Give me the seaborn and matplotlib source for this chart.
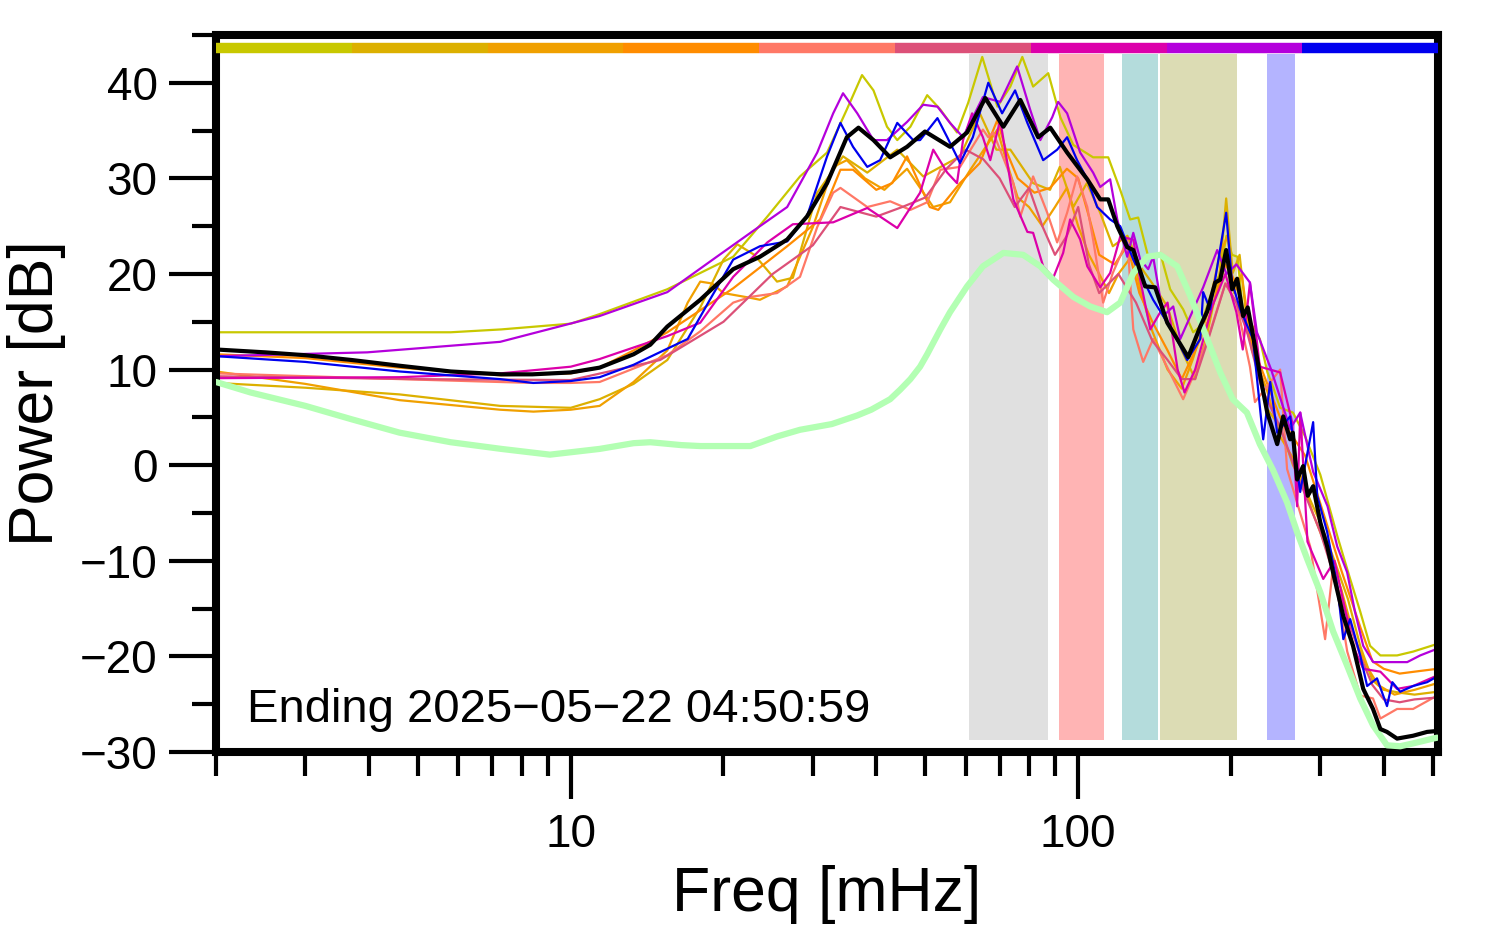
import numpy as np
import pandas as pd
import matplotlib
matplotlib.use("Agg")
import matplotlib.pyplot as plt
import matplotlib.ticker as mticker
import seaborn as sns

# ---------------- data ----------------
seg_colors = ["#c8c800", "#dcb000", "#f0a000", "#ff8c00", "#ff7866",
              "#dc5078", "#dc00aa", "#b400dc", "#0000ee"]

band_lo = [61.0, 91.7, 122.0, 145.0, 236.0]
band_hi = [87.0, 112.5, 143.8, 205.7, 268.0]
band_colors = ["#e0e0e0", "#ffb4b4", "#b4dcdc", "#dcdcb4", "#b4b4ff"]

yellow_f = [2, 3, 5.8, 7.3, 10, 11.4, 15.5, 20.9, 24.4, 28.3, 32, 35, 37.5, 39.5, 42, 44, 46.7, 50.4, 53.5,
            57.7, 60.7, 64.7, 69.3, 73.5, 77.6, 81.5, 87.3, 92.2, 97.8, 107, 114.6, 121, 126.6, 131.3, 137.4,
            145.1, 151.8, 161, 168.5, 174, 182, 190, 196, 201, 206, 211, 228, 236, 242, 250, 265, 280, 300,
            324, 343.5, 359.5, 376, 394, 425, 457, 510]
yellow_p = [13.9, 13.9, 13.9, 14.2, 14.8, 15.8, 18.4, 21.8, 26.0, 30.2, 32.7, 37.2, 40.8, 39.2, 35.4, 34.0, 35.4, 38.7, 37.2,
            34.8, 37.9, 42.7, 37.5, 39.6, 42.7, 39.6, 41.0, 36.4, 33.5, 32.2, 32.2, 28.8, 25.7, 25.9, 21.8,
            22.2, 18.4, 16.3, 13.9, 14.5, 17.6, 20.0, 24.0, 22.0, 21.8, 16.3, 13.2, 9.7, 8.2, 6.0, 5.5, 3.0, -1.0,
            -7.4, -11.9, -15.3, -18.9, -19.9, -19.9, -19.5, -18.7]

golden_f = [2, 3, 4.6, 7.26, 10, 11.4, 13.3, 15.5, 18, 20, 21.3, 23, 25.5, 27.4, 30.6, 34.4, 38.4, 44, 49.5, 58.5,
            64, 69, 73.5, 81.5, 88, 92, 97.8, 104, 110.5, 117, 125, 132.5, 140, 149.8, 160, 170, 180, 190, 195.7,
            201.6, 208, 215, 225, 235, 250, 265, 283, 300, 320, 340, 360, 380, 400, 430, 460, 510]
golden_p = [8.6, 8.1, 7.4, 6.2, 6.0, 6.9, 8.5, 11.0, 16.5, 21.5, 23.1, 22.0, 19.2, 19.6, 28.5, 32.3, 30.6, 33.0, 30.2, 32.3,
            36.8, 33.0, 33.0, 29.5, 28.8, 31.2, 27.0, 29.5, 26.4, 22.9, 24.0, 20.8, 19.0, 16.6, 12.0, 9.0, 14.0, 20.0, 27.9,
            20.1, 22.0, 15.0, 11.0, 6.0, 4.0, 0.0, -3.0, -6.0, -10.0, -14.0, -19.0, -22.5, -23.5, -23.8, -24.0, -23.7]

orange_f = [2, 3, 4.6, 7.26, 8.44, 10, 11.4, 13.3, 15.5, 17, 18, 19, 20, 22.6, 23.6, 26.7, 30, 32.9, 35, 38, 41.5,
            46, 51.8, 55.9, 61.3, 69.3, 72, 76, 80, 85, 90, 95, 100, 105, 110, 115, 120, 128, 133, 140, 150, 160,
            168, 180, 190, 197, 203, 210, 220, 235, 250, 270, 290, 310, 330, 350, 370, 390, 420, 460, 510]
orange_p = [9.8, 8.5, 6.8, 5.8, 5.6, 5.8, 6.2, 8.7, 12.0, 17.0, 19.2, 19.0, 18.0, 17.5, 17.3, 18.7, 24.9, 31.2, 31.9, 30.0, 28.8,
            31.0, 27.0, 27.5, 30.9, 35.1, 32.0, 28.0, 27.0, 25.0, 27.0, 29.0, 25.0, 22.0, 20.0, 18.0, 20.0, 22.0, 18.0, 14.0, 10.0, 8.0,
            11.0, 16.0, 22.0, 24.0, 18.0, 20.0, 12.0, 8.0, 3.0, 0.0, -5.0, -9.0, -13.0, -18.0, -21.0, -23.0, -24.0, -23.5, -22.8]

dkorange_f = [2, 3, 4.6, 7.26, 10, 11.4, 13.3, 15.5, 20.9, 26.7, 31, 34, 36, 40, 43, 46, 51, 53, 58.5, 64, 69.3,
              72, 76, 82, 88, 95, 100, 105, 110, 118, 125, 132, 140, 150, 160, 170, 180, 195, 205, 215, 230, 250,
              280, 300, 330, 360, 380, 400, 430, 460, 510]
dkorange_p = [11.6, 11.2, 10.2, 9.4, 9.6, 10.2, 12.0, 13.9, 18.5, 22.9, 25.7, 30.9, 30.9, 28.8, 29.5, 32.3, 27.0, 26.7, 29.5, 31.6, 36.1,
              33.0, 30.0, 28.5, 29.0, 31.0, 30.0, 26.0, 22.0, 21.0, 23.0, 18.0, 15.0, 12.0, 9.0, 12.0, 15.0, 21.0, 19.0, 14.0, 10.0, 5.0,
              1.0, -4.0, -11.0, -17.0, -20.5, -21.3, -21.8, -21.6, -21.3]

salmon_f = [2, 4.6, 8.4, 10, 11.4, 15.5, 18, 20.9, 22.6, 25.5, 28.3, 30.6, 32.9, 34, 38.4, 42.6, 46.7, 50.4, 53.5,
            58.5, 64.9, 66.5, 68, 74.5, 76.9, 81.5, 86.9, 90.9, 95.1, 99.5, 104.2, 107, 112, 117, 125, 128.4, 134.3,
            140.5, 161, 171.6, 182, 195, 205, 218, 223, 250, 258, 286.5, 306.6, 318, 339, 359.5, 381, 394, 425, 457, 510]
salmon_p = [9.6, 9.0, 8.6, 8.6, 8.7, 11.5, 14.0, 17.0, 17.6, 18.0, 19.7, 24.9, 28.5, 29.0, 27.0, 27.6, 26.7, 27.5, 30.9,
            31.2, 35.1, 34.3, 34.8, 29.5, 26.0, 30.2, 26.4, 23.3, 26.4, 30.2, 27.0, 23.6, 17.0, 20.1, 23.6, 14.2, 10.8,
            13.2, 6.9, 10.3, 14.0, 19.0, 17.0, 10.3, 6.6, 10.0, -0.4, -8.5, -18.2, -10.5, -19.5, -24.1, -24.4, -26.5, -25.5, -25.5, -24.1]

rose_f = [2, 5, 10, 15, 20, 25, 30, 34, 40, 45, 50, 55, 60, 65, 70, 75, 80, 85, 90, 95, 100, 105, 110, 120, 130,
          140, 150, 160, 170, 180, 195, 205, 215, 230, 250, 270, 300, 330, 360, 380, 400, 430, 460, 510]
rose_p = [9.3, 9.0, 8.9, 11.0, 15.0, 20.0, 23.0, 27.0, 26.0, 27.0, 28.0, 31.0, 33.0, 32.0, 30.0, 27.0, 29.0, 25.0, 22.0, 24.0,
          27.0, 21.0, 18.0, 20.0, 17.0, 13.0, 11.0, 9.0, 9.0, 13.0, 19.0, 17.0, 14.0, 8.0, 4.0, -1.0, -7.0, -14.0, -20.0, -23.0,
          -24.5, -24.8, -24.5, -24.3]

magenta_f = [2, 4.6, 7.26, 10, 11.4, 15.5, 18, 20.9, 24.4, 27.4, 32.9, 38.4, 44, 48.8, 51.8, 55.2, 57.7, 59.3, 61.8,
             64.9, 67.1, 70.2, 74.5, 79.4, 81.5, 85.3, 89.3, 93.4, 96.4, 100.9, 104.2, 110.5, 115.6, 121, 128.4, 132.5,
             138.7, 145.1, 150, 157, 162, 170, 183.7, 195, 205, 211, 218, 228, 250, 264, 270, 274, 283, 304, 320,
             348, 364.5, 394, 425, 457, 510]
magenta_p = [9.1, 9.2, 9.6, 10.3, 11.1, 13.5, 14.9, 19.7, 23.3, 25.2, 25.4, 26.9, 24.8, 28.5, 33.0, 30.6, 29.5, 34.0, 36.8,
             34.3, 31.9, 36.1, 27.8, 24.4, 24.3, 20.8, 19.6, 22.2, 25.7, 23.6, 20.8, 18.6, 20.1, 23.9, 23.6, 19.4,
             14.2, 16.0, 17.0, 10.0, 7.6, 10.0, 16.6, 20.0, 16.0, 12.1, 19.1, 10.3, 9.7, 4.5, -4.3, 5.5, -8.0, -11.9, -10.0,
             -18.9, -21.3, -21.6, -23.4, -23.1, -22.0]

purple_f = [2, 3.97, 7.26, 11.4, 15.5, 19.4, 22.6, 26.7, 30.6, 32.9, 34.4, 36.7, 39.5, 42, 46, 49.5, 52.8, 55.9,
            59.3, 64.9, 70.2, 75.8, 80.4, 84.2, 88.9, 91.3, 95.1, 100.9, 107, 110.5, 115.6, 119.4, 124.9, 128.4,
            132.5, 137.4, 140.5, 147.1, 153.9, 158.9, 176.3, 187.9, 196, 205, 218, 225, 240, 261.6, 273.8, 290.4,
            310, 323.9, 338.8, 351, 364.5, 381.4, 406, 445, 472, 510]
purple_p = [11.4, 11.8, 12.9, 15.6, 18.1, 21.8, 24.3, 27.0, 32.7, 36.8, 38.9, 36.8, 34.0, 34.0, 35.9, 37.7, 37.5, 35.8,
            34.3, 38.5, 38.0, 41.7, 37.2, 34.0, 36.4, 38.0, 36.8, 32.7, 30.6, 29.1, 29.9, 25.7, 21.8, 24.3,
            21.5, 20.5, 21.8, 15.6, 16.6, 13.2, 18.6, 22.5, 20.0, 21.0, 19.1, 13.9, 10.0, 3.8, 5.5, -0.7,
            -4.3, -8.5, -11.2, -15.3, -18.9, -20.6, -20.6, -20.6, -19.9, -19.2]

blue_f = [2, 3, 4.6, 7.26, 8.44, 10, 11.4, 13.3, 17, 18.8, 20.9, 23.6, 26.7, 29.2, 32, 34, 36, 38.4, 40.7, 44,
          47.3, 48.8, 52.8, 55.2, 58.5, 62, 66.5, 70.8, 75.1, 79.4, 85.3, 90.9, 95.1, 99.5, 104.2, 109, 115.6, 121,
          128.4, 140.5, 153.9, 164, 174, 176.3, 182, 195.7, 201, 208.6, 221, 231.5, 239, 246.7, 261.6, 273.8,
          290.4, 295.8, 309.5, 324, 333, 343.5, 359.5, 371, 388, 406, 416, 431, 457, 487, 510]
blue_p = [11.4, 10.8, 9.8, 9.0, 8.6, 8.8, 9.2, 10.5, 13.2, 17.3, 21.5, 22.9, 23.4, 26.0, 32.3, 35.8, 33.3, 31.2, 31.9, 35.8,
          34.0, 34.0, 36.3, 34.3, 31.6, 34.3, 40.0, 36.8, 39.2, 35.8, 31.9, 33.0, 34.3, 31.9, 29.9, 27.0, 25.7, 25.0,
          21.5, 17.3, 13.9, 11.0, 13.2, 18.1, 16.3, 26.4, 19.1, 16.3, 13.2, 2.7, 8.7, 3.4, 5.1, -2.8,
          4.5, -3.2, -7.0, -12.6, -18.2, -16.1, -19.9, -23.1, -22.3, -25.2, -22.7, -23.7, -23.1, -22.7, -22.1]

mean_f = [2, 2.5, 3, 3.7, 4.6, 5.8, 7.3, 8.4, 10, 11.4, 13.3, 14.35, 15.5, 18, 20.9, 23.6, 26.7, 29.2, 32, 35, 36.9, 39.5, 42.6,
          46, 49.9, 55.9, 60.4, 65.6, 71.2, 76.9, 83.4, 88.1, 95.1, 104.2, 110.5, 114.6, 119.4, 124.9, 128.4, 135.5,
          141.8, 149.8, 164.7, 174, 179.6, 186.2, 190.5, 195.7, 201.1, 205.7, 211.4, 215.8, 221.2, 228.4, 235.8,
          246.7, 253.5, 261.6, 264.8, 270, 277.5, 283.4, 290.4, 300, 309.5, 320, 333, 348, 364.5, 381, 394, 406,
          425, 457, 487, 510]
mean_p = [12.1, 11.8, 11.5, 11.0, 10.4, 9.8, 9.5, 9.5, 9.7, 10.2, 11.6, 12.6, 14.5, 17.3, 20.5, 21.8, 23.6, 26.0, 29.5, 34.3, 35.3, 34.0, 32.2,
          33.3, 34.9, 33.3, 34.8, 38.4, 35.4, 38.2, 34.3, 35.3, 32.7, 29.9, 27.8, 27.8, 25.0, 22.8, 22.5, 18.7,
          18.6, 14.9, 11.3, 14.5, 16.1, 19.1, 19.4, 22.5, 18.4, 19.5, 15.6, 16.5, 13.5, 9.3, 5.5,
          2.2, 5.1, 2.7, 3.4, -1.5, -0.1, -3.2, -2.2, -6.0, -8.5, -11.9, -15.8, -18.9, -23.4, -25.5, -27.6, -27.9,
          -28.6, -28.3, -27.9, -27.8]

ref_f = [2, 2.34, 3, 3.7, 4.6, 5.8, 7.3, 9.1, 11.4, 13.3, 14.35, 16.5, 18, 22.6, 25.5, 28.3, 32.7, 36.7, 39.1, 42.6,
         44.6, 46.7, 48.8, 50.4, 53.5, 55.9, 60.4, 64.9,
         71.2, 77.9, 84.2, 89.3, 97.8, 105.6, 114, 121, 128.4, 136.8, 145.1, 156.7, 166.3, 179.6, 190.5, 201.6,
         215, 228, 242, 258, 270, 282.6, 300, 318, 339, 359.5, 381, 406, 431, 457, 500, 510]
ref_p = [8.7, 7.6, 6.2, 4.8, 3.4, 2.4, 1.7, 1.1, 1.7, 2.3, 2.4, 2.1, 2.0, 2.0, 3.0, 3.7, 4.3, 5.2, 5.8, 6.9,
         7.9, 9.0, 10.3, 11.6, 14.2, 16.0, 18.7, 20.8,
         22.2, 22.0, 20.8, 19.4, 17.6, 16.6, 16.0, 17.0, 20.1, 21.8, 22.0, 20.8, 17.7, 13.2, 9.7, 6.9,
         5.5, 2.2, -0.5, -3.9, -7.0, -9.8, -13.3, -17.4, -21.0, -24.4, -27.2, -29.3, -29.4, -29.1, -28.6, -28.5]

annotation = "Ending 2025\u221205\u221222 04:50:59"

# ---------------- plot ----------------
sns.set_style("ticks")
plt.rcParams["font.family"] = ["Liberation Sans", "DejaVu Sans"]
plt.rcParams["axes.unicode_minus"] = True
for k in ["text.color", "axes.labelcolor", "xtick.color", "ytick.color", "axes.edgecolor"]:
    plt.rcParams[k] = "black"
plt.rcParams["lines.solid_joinstyle"] = "round"

fig = plt.figure(figsize=(14.94, 9.52), dpi=100)
ax = fig.add_axes([0.1446, 0.2101, 0.818, 0.7532])
ax.set_xscale("log")
xmin, xmax = 2.0, 512.0
ax.set_xlim(xmin, xmax)
ax.set_ylim(-30, 45)

# frequency bands
for lo, hi, c in zip(band_lo, band_hi, band_colors):
    ax.axvspan(lo, hi, ymin=0.017, ymax=0.973, color=c, lw=0, zorder=0)

series = [
    (yellow_f, yellow_p, seg_colors[0]),
    (golden_f, golden_p, seg_colors[1]),
    (orange_f, orange_p, seg_colors[2]),
    (dkorange_f, dkorange_p, seg_colors[3]),
    (salmon_f, salmon_p, seg_colors[4]),
    (rose_f, rose_p, seg_colors[5]),
    (magenta_f, magenta_p, seg_colors[6]),
    (purple_f, purple_p, seg_colors[7]),
    (blue_f, blue_p, seg_colors[8]),
]
for f, p, c in series:
    df = pd.DataFrame({"freq": f, "power": p})
    sns.lineplot(data=df, x="freq", y="power", color=c, lw=1.6, ax=ax, zorder=2)

dfr = pd.DataFrame({"freq": ref_f, "power": ref_p})
sns.lineplot(data=dfr, x="freq", y="power", color="#b3ffb3", lw=4.5, ax=ax, zorder=3)
dfm = pd.DataFrame({"freq": mean_f, "power": mean_p})
sns.lineplot(data=dfm, x="freq", y="power", color="black", lw=3.0, ax=ax, zorder=4)

# time-segment colour bar at the top
edges = np.logspace(np.log10(xmin), np.log10(xmax), len(seg_colors) + 1)
ax.hlines([43.6] * len(seg_colors), edges[:-1], edges[1:], colors=seg_colors, lw=7.5, zorder=5)

ax.text(0.025, 0.059, annotation, transform=ax.transAxes, fontsize=34, ha="left", va="center",
        color="black", zorder=6)

# axes styling
for s in ax.spines.values():
    s.set_linewidth(5.8)
    s.set_color("black")
ax.xaxis.set_major_locator(mticker.LogLocator(base=10))
ax.xaxis.set_minor_locator(mticker.LogLocator(base=10, subs=np.arange(2, 10)))
ax.xaxis.set_major_formatter(mticker.FuncFormatter(lambda v, pos: f"{v:g}"))
ax.xaxis.set_minor_formatter(mticker.NullFormatter())
ax.yaxis.set_major_locator(mticker.MultipleLocator(10))
ax.yaxis.set_minor_locator(mticker.MultipleLocator(5))
ax.tick_params(axis="both", which="major", direction="out", length=34, width=3, labelsize=33,
               color="black", labelcolor="black")
ax.tick_params(axis="both", which="minor", direction="out", length=17, width=3, color="black")
ax.tick_params(axis="y", which="major", pad=8)
ax.tick_params(axis="x", which="major", pad=10)
ax.set_xlabel("Freq [mHz]", fontsize=45, labelpad=6, color="black")
ax.set_ylabel("Power [dB]", fontsize=45, labelpad=10, color="black")

fig.savefig("out.png", dpi=100)
